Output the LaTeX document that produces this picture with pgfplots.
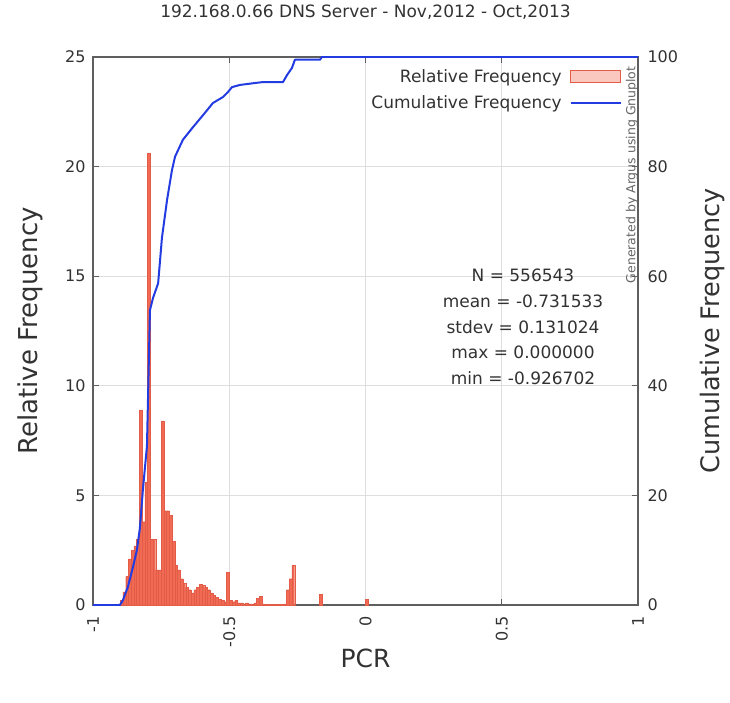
\documentclass[border=0pt]{standalone}
\usepackage{pgfplots}
\pgfplotsset{compat=1.18}
\usepackage{pgfplotstable}
\usepackage{fontspec}
\setmainfont{DejaVu Sans}
\definecolor{barfill}{RGB}{240,106,84}
\definecolor{bardraw}{RGB}{226,92,72}
\definecolor{legfill}{RGB}{250,200,190}
\definecolor{cumblue}{RGB}{35,60,225}
\definecolor{gridgray}{RGB}{222,222,222}
\definecolor{axgray}{RGB}{95,95,95}
\definecolor{txtgray}{RGB}{50,50,50}

\pgfplotstableread{
x y
-0.905 0.05
-0.895 0.2
-0.885 0.6
-0.875 1.3
-0.865 2.1
-0.855 2.5
-0.845 2.7
-0.835 3.0
-0.825 8.9
-0.815 3.8
-0.805 5.6
-0.795 20.6
-0.785 3.0
-0.775 3.0
-0.765 1.6
-0.755 1.6
-0.745 8.4
-0.735 4.3
-0.725 4.3
-0.715 4.1
-0.705 2.9
-0.695 1.8
-0.685 1.6
-0.675 1.2
-0.665 1.0
-0.655 0.8
-0.645 0.7
-0.635 0.55
-0.625 0.7
-0.615 0.8
-0.605 0.95
-0.595 0.9
-0.585 0.8
-0.575 0.7
-0.565 0.55
-0.555 0.45
-0.545 0.35
-0.535 0.25
-0.525 0.2
-0.515 0.15
-0.505 1.5
-0.495 0.2
-0.485 0.15
-0.475 0.2
-0.465 0.1
-0.455 0.1
-0.445 0.05
-0.435 0.1
-0.425 0.05
-0.415 0.05
-0.405 0.1
-0.395 0.3
-0.385 0.4
-0.375 0.05
-0.365 0.03
-0.355 0.02
-0.345 0.02
-0.335 0.02
-0.325 0.02
-0.315 0.02
-0.305 0.03
-0.295 0.05
-0.285 0.7
-0.275 1.2
-0.265 1.8
-0.165 0.5
0.005 0.25
}\histtable

\pgfplotstableread{
x c
-1 0
-0.901 0
-0.89 0.9
-0.872 3.3
-0.853 7
-0.839 10
-0.828 14
-0.817 21
-0.802 29
-0.798 38
-0.791 53.8
-0.78 56
-0.761 58.7
-0.747 67
-0.728 74
-0.71 79.4
-0.699 81.8
-0.67 84.9
-0.633 87.2
-0.596 89.4
-0.56 91.6
-0.523 92.7
-0.505 93.6
-0.49 94.5
-0.461 94.9
-0.398 95.3
-0.38 95.4
-0.303 95.4
-0.288 96.7
-0.27 98
-0.259 99.5
-0.167 99.5
-0.16 100
1 100
}\cumtable

\begin{document}
\begin{tikzpicture}
\path[use as bounding box] (0,0) rectangle (730pt,702pt);
\begin{axis}[
  at={(93pt,97pt)}, anchor=south west,
  width=545pt, height=548pt, scale only axis,
  xmin=-1, xmax=1, ymin=0, ymax=25,
  xtick={-1,-0.5,0,0.5,1}, ytick={0,5,10,15,20,25},
  ytick pos=left,
  tick align=inside, major tick length=6pt,
  grid=major, grid style={gridgray, line width=0.8pt},
  axis line style={axgray, line width=1.3pt},
  tick style={axgray, line width=1pt},
  /pgf/number format/assume math mode=true,
  tick label style={font=\fontsize{16pt}{19pt}\selectfont, text=txtgray},
  xticklabel style={rotate=90, anchor=east, inner xsep=11pt},
  yticklabel style={xshift=-4pt},
  every axis x label/.style={at={(axis description cs:0.5,-0.097)}, anchor=center, font=\fontsize{25pt}{30pt}\selectfont, text=txtgray},
  every axis y label/.style={at={(axis description cs:-0.1156,0.5)}, rotate=90, anchor=center, font=\fontsize{26pt}{31pt}\selectfont, text=txtgray},
  xlabel={PCR}, ylabel={Relative Frequency},
  title={192.168.0.66 DNS Server - Nov,2012 - Oct,2013},
  title style={at={(axis description cs:0.5,1.071)}, anchor=center, font=\fontsize{17pt}{20pt}\selectfont, text=txtgray},
  legend style={at={(axis description cs:0.976,0.985)}, anchor=north east, draw=none, fill=none,
    font=\fontsize{17pt}{20pt}\selectfont, text=txtgray, row sep=8pt, column sep=6pt},
  legend cell align=right,
  legend plot pos=right,
]
\addplot[ybar, bar width=0.01, fill=barfill, draw=bardraw, line width=0.3pt,
  legend image code/.code={\draw[fill=legfill, draw=bardraw, line width=1.2pt] (0pt,-6pt) rectangle (50pt,6pt);}]
  table[x=x, y=y] {\histtable};
\addlegendentry{Relative Frequency}
\addlegendimage{legend image code/.code={\draw[cumblue, line width=2pt] (0pt,0pt) -- (50pt,0pt);}}
\addlegendentry{Cumulative Frequency}
\node[anchor=center, font=\fontsize{17pt}{20pt}\selectfont, text=txtgray] at (axis cs:0.578,15.05) {N = 556543};
\node[anchor=center, font=\fontsize{17pt}{20pt}\selectfont, text=txtgray] at (axis cs:0.578,13.87) {mean = -0.731533};
\node[anchor=center, font=\fontsize{17pt}{20pt}\selectfont, text=txtgray] at (axis cs:0.578,12.68) {stdev = 0.131024};
\node[anchor=center, font=\fontsize{17pt}{20pt}\selectfont, text=txtgray] at (axis cs:0.578,11.54) {max = 0.000000};
\node[anchor=center, font=\fontsize{17pt}{20pt}\selectfont, text=txtgray] at (axis cs:0.578,10.36) {min = -0.926702};
\node[rotate=90, anchor=center, font=\fontsize{12.5pt}{14pt}\selectfont, text=gray!80!black] at (axis description cs:0.989,0.785) {Generated by Argus using Gnuplot};
\end{axis}
\begin{axis}[
  at={(93pt,97pt)}, anchor=south west,
  width=545pt, height=548pt, scale only axis,
  xmin=-1, xmax=1, ymin=0, ymax=100,
  hide x axis,
  axis y line*=right,
  ytick={0,20,40,60,80,100},
  tick align=inside, major tick length=6pt,
  axis line style={axgray, line width=1.3pt},
  tick style={axgray, line width=1pt},
  /pgf/number format/assume math mode=true,
  tick label style={font=\fontsize{16pt}{19pt}\selectfont, text=txtgray},
  yticklabel style={xshift=6pt},
  every axis y label/.style={at={(axis description cs:1.136,0.5)}, rotate=90, anchor=center, font=\fontsize{25.5pt}{30pt}\selectfont, text=txtgray},
  ylabel={Cumulative Frequency},
]
\addplot[cumblue, line width=2pt, line join=round] table[x=x, y=c] {\cumtable};
\end{axis}
\end{tikzpicture}
\end{document}
